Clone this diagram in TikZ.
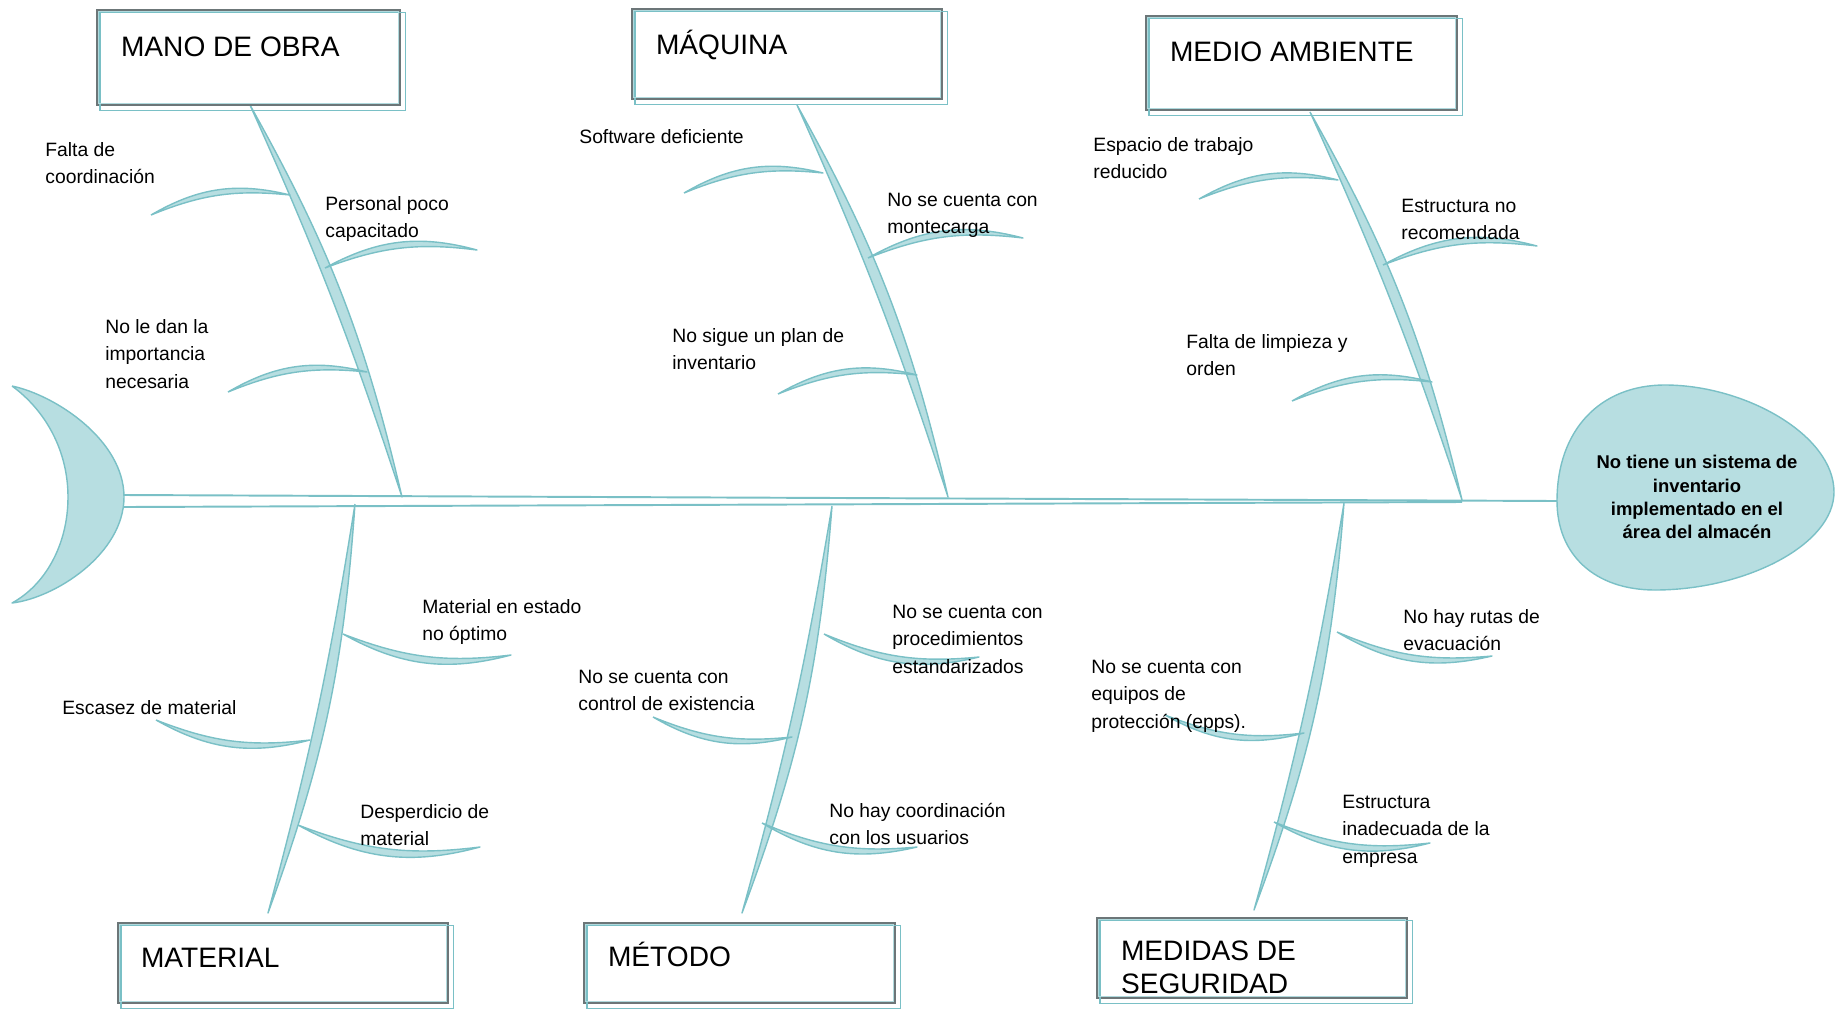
\documentclass[tikz,border=0pt]{standalone}
\usepackage{fontspec}
\setmainfont{Liberation Sans}
\usetikzlibrary{calc,positioning}
\definecolor{fishfill}{RGB}{183,222,225}
\definecolor{fishline}{RGB}{122,192,198}
\definecolor{boxgray}{RGB}{108,118,120}
\newcommand{\ctext}[1]{\begin{tabular}[t]{@{}l@{}}#1\end{tabular}}

\begin{document}
\begin{tikzpicture}[x=0.02cm,y=-0.02cm,
		catbox/.style={draw=boxgray,line width=1.5pt,fill=white,inner sep=0pt},
		cattext/.style={anchor=base west,inner sep=0pt,font=\fontsize{16}{18.6}\selectfont},
		cause/.style={anchor=base west,inner sep=0pt,font=\fontsize{11}{15.9}\selectfont},
		bone/.style={fill=fishfill,draw=fishline,line width=0.8pt,line join=round},
		spine/.style={draw=fishline,line width=1.1pt}]
		\useasboundingbox (0,0) rectangle (1835,1008);
		% tail and head
		\filldraw[bone] (12,386) .. controls (55,395) and (124,440) .. (124,497) .. controls (124,554) and (55,598) .. (12,603) .. controls (45,585) and (68,545) .. (68,497) .. controls (68,450) and (45,410) .. (12,386);
		\coordinate (hl) at (1557,501);
		\filldraw[bone] (hl) .. controls (1557,430) and (1600,385) .. (1665,385) .. controls (1745,385) and (1834,435) .. (1834,492) .. controls (1834,545) and (1745,590) .. (1655,590) .. controls (1595,590) and (1557,555) .. (hl);
		\node[font=\bfseries\fontsize{10.5}{13.2}\selectfont,align=center] (effect) at (1697,497) {No tiene un sistema de\\inventario\\implementado en el\\área del almacén};
		% spine
		\coordinate (tu) at (124,495);
		\coordinate (tl) at (124,507);
		\coordinate (sj) at (1462,502);
		\draw[spine] (tu) -- (hl);
		\draw[spine] (tl) -- (sj);
		% main bones
		\coordinate (manotop) at (250,105);   \coordinate (manofoot) at (402,497);
		\coordinate (maqtop) at (797,105);    \coordinate (maqfoot) at (948,497);
		\coordinate (mediotop) at (1310,112); \coordinate (mediofoot) at (1462,500);
		\coordinate (matfoot) at (268,913);   \coordinate (mattop) at (355,504);
		\coordinate (metfoot) at (742,913);   \coordinate (mettop) at (832,506);
		\coordinate (medfoot) at (1254,910);  \coordinate (medtop) at (1344,503);
		\foreach \a/\b in {manotop/manofoot,maqtop/maqfoot,mediotop/mediofoot,mattop/matfoot,mettop/metfoot,medtop/medfoot}
			\filldraw[bone] (\a) to[bend left=8] (\b) to[bend right=3] (\a);
		% small bones
		\foreach \wx/\wy/\ex/\ey in {151/215/290/195,325/268/477/250,228/392/367/372,
				684/193/823/173,868/258/1023/238,778/394/917/375,
				1199/199/1338/180,1383/265/1537/246,1292/401/1432/382}
			\filldraw[bone] (\wx,\wy) to[bend left=22] (\ex,\ey) to[bend right=14] (\wx,\wy);
		\foreach \wx/\wy/\ex/\ey in {343/634/511/655,156/720/310/740,298/825/480/847,
				824/634/979/657,653/717/792/737,762/823/917/847,
				1337/632/1492/656,1165/715/1304/733,1274/822/1430/843}
			\filldraw[bone] (\wx,\wy) to[bend right=22] (\ex,\ey) to[bend left=14] (\wx,\wy);
		% category boxes
		\node[catbox,minimum width=6.06cm,minimum height=1.9cm] (mano) at (248.5,57.5) {};
		\node[catbox,minimum width=6.2cm,minimum height=1.8cm] (maq) at (787,54) {};
		\node[catbox,minimum width=6.22cm,minimum height=1.88cm] (medio) at (1301.5,63) {};
		\node[catbox,minimum width=6.6cm,minimum height=1.6cm] (material) at (283,963) {};
		\node[catbox,minimum width=6.22cm,minimum height=1.6cm] (metodo) at (739.5,963) {};
		\node[catbox,minimum width=6.2cm,minimum height=1.6cm] (medidas) at (1252,958) {};
		\foreach \b in {mano,maq,medio,material,metodo,medidas} {
			\draw[fishline,line width=0.9pt] ($(\b.north west)+(4,4)$) rectangle ($(\b.south east)+(4,4)$);
			\draw[fishline!60,line width=0.6pt] ($(\b.north west)+(3,3)$) rectangle ($(\b.south east)+(-3,-3)$);
		}
		\node[cattext] (mano-t) at ($(mano.north west)+(25,48)$) {MANO DE OBRA};
		\node[cattext] (maq-t) at ($(maq.north west)+(25,47)$) {MÁQUINA};
		\node[cattext] (medio-t) at ($(medio.north west)+(25,47)$) {MEDIO AMBIENTE};
		\node[cattext] (material-t) at ($(material.north west)+(24,46)$) {MATERIAL};
		\node[cattext] (metodo-t) at ($(metodo.north west)+(25,45)$) {MÉTODO};
		\node[cattext] (medidas-t) at ($(medidas.north west)+(25,44)$) {\ctext{MEDIDAS DE\\SEGURIDAD}};
		% causes
		\node[cause] (coord) at (45,156) {\ctext{Falta de\\coordinación}};
		\node[cause] (personal) at (325,210) {\ctext{Personal poco\\capacitado}};
		\node[cause] (importancia) at (105,333) {\ctext{No le dan la\\importancia\\necesaria}};
		\node[cause] (software) at (579,143) {Software deficiente};
		\node[cause] (montecarga) at (887,206) {\ctext{No se cuenta con\\montecarga}};
		\node[cause] (plan) at (672,342) {\ctext{No sigue un plan de\\inventario}};
		\node[cause] (espacio) at (1093,151) {\ctext{Espacio de trabajo\\reducido}};
		\node[cause] (estructura) at (1401,212) {\ctext{Estructura no\\recomendada}};
		\node[cause] (limpieza) at (1186,348) {\ctext{Falta de limpieza y\\orden}};
		\node[cause] (estado) at (422,613) {\ctext{Material en estado\\no óptimo}};
		\node[cause] (escasez) at (62,714) {Escasez de material};
		\node[cause] (desperdicio) at (360,818) {\ctext{Desperdicio de\\material}};
		\node[cause] (control) at (578,683) {\ctext{No se cuenta con\\control de existencia}};
		\node[cause] (proced) at (892,618) {\ctext{No se cuenta con\\procedimientos\\estandarizados}};
		\node[cause] (usuarios) at (829,817) {\ctext{No hay coordinación\\con los usuarios}};
		\node[cause] (rutas) at (1403,623) {\ctext{No hay rutas de\\evacuación}};
		\node[cause] (epps) at (1091,673) {\ctext{No se cuenta con\\equipos de\\protección (epps).}};
		\node[cause] (inadecuada) at (1342,808) {\ctext{Estructura\\inadecuada de la\\empresa}};
	\end{tikzpicture}
\end{document}
